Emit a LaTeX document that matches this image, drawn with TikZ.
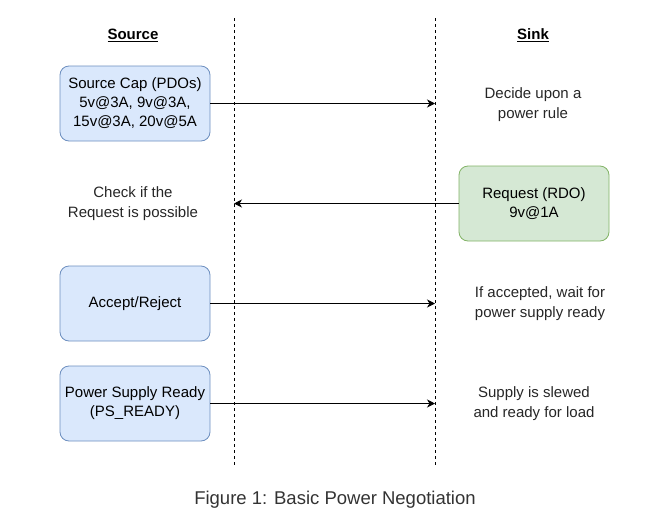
\documentclass[tikz,border=0pt]{standalone}
\usepackage{fontspec}
\setmainfont{Liberation Sans}
\usetikzlibrary{arrows.meta}
\definecolor{bfill}{HTML}{DAE8FC}
\definecolor{bline}{HTML}{6C8EBF}
\definecolor{gfill}{HTML}{D5E8D4}
\definecolor{gline}{HTML}{82B366}
\definecolor{captc}{HTML}{333333}
\tikzset{
  box/.style={draw, rounded corners=9pt, minimum width=150pt, minimum height=75pt, align=center, font=\fontsize{15pt}{19pt}\selectfont, inner sep=0pt, line width=0.8pt},
  bluebox/.style={box, fill=bfill, draw=bline},
  greenbox/.style={box, fill=gfill, draw=gline},
  lbl/.style={align=center, font=\fontsize{15pt}{20pt}\selectfont, text=black!85},
  msg/.style={-{Stealth[length=8pt,width=8pt,inset=2.5pt]}, line width=0.9pt},
  life/.style={dash pattern=on 3pt off 3pt, line width=0.8pt},
  head/.style={font=\fontsize{15pt}{18pt}\selectfont\bfseries}
}
\begin{document}
\begin{tikzpicture}[x=1pt,y=-1pt]
\useasboundingbox (0,0) rectangle (667,517);
\coordinate (lt) at (234,18);
\coordinate (lb) at (234,466);
\coordinate (rt) at (435,18);
\coordinate (rb) at (435,466);
\draw[life] (lt) -- (lb);
\draw[life] (rt) -- (rb);
\node[head] (src) at (133,35) {\underline{Source}};
\node[head] (snk) at (533,35) {\underline{Sink}};
\node[bluebox] (cap) at (135,103.5) {Source Cap (PDOs)\\5v@3A, 9v@3A,\\15v@3A, 20v@5A};
\node[lbl] (dec) at (533,105) {Decide upon a\\power rule};
\node[greenbox] (req) at (534,203.5) {Request (RDO)\\9v@1A};
\node[lbl] (chk) at (133,204) {Check if the\\Request is possible};
\node[bluebox] (acc) at (135,303.5) {Accept/Reject};
\node[lbl] (wait) at (540,304) {If accepted, wait for\\power supply ready};
\node[bluebox] (psr) at (135,403.5) {Power Supply Ready\\(PS\_READY)};
\node[lbl] (slew) at (534,404) {Supply is slewed\\and ready for load};
\coordinate (a1) at (435,103.5);
\coordinate (a2) at (234,203.5);
\coordinate (a3) at (435,303.5);
\coordinate (a4) at (435,403.5);
\draw[msg] (cap.east) -- (a1);
\draw[msg] (req.west) -- (a2);
\draw[msg] (acc.east) -- (a3);
\draw[msg] (psr.east) -- (a4);
\node[font=\fontsize{18.5pt}{20pt}\selectfont, text=captc] (cap2) at (335,500) {Figure 1: Basic Power Negotiation};
\end{tikzpicture}
\end{document}
